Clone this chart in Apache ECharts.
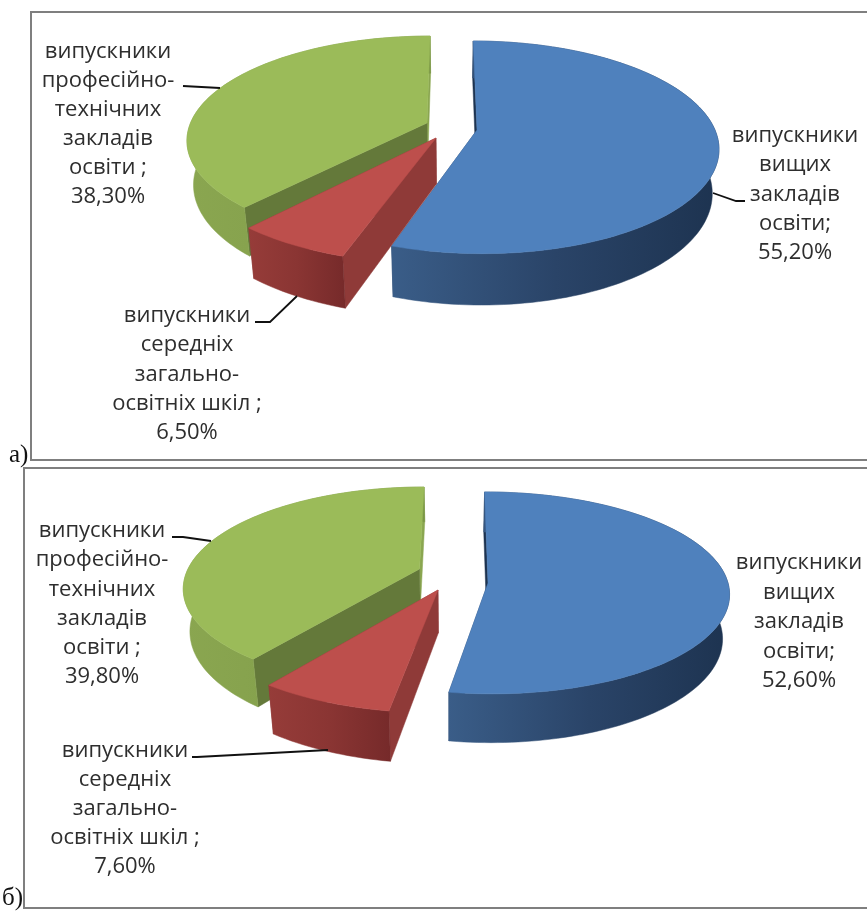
<!DOCTYPE html>
<html><head><meta charset="utf-8">
<style>html,body{margin:0;padding:0;background:#fff}#c{width:867px;height:913px}</style>
<script src="https://cdn.jsdelivr.net/npm/echarts@6/dist/echarts.min.js"></script>
</head><body><div id="c"></div>
<script>
// Data
const categoryLines = {
  higher: ['випускники', 'вищих', 'закладів', 'освіти;'],
  school: ['випускники', 'середніх', 'загально-', 'освітніх шкіл ;'],
  vocational: ['випускники', 'професійно-', 'технічних', 'закладів', 'освіти ;']
};
const sliceOrder = ['higher', 'school', 'vocational'];
const valuesA = [55.2, 6.5, 38.3];
const valuesB = [52.6, 7.6, 39.8];
const chartLetters = ['а)', 'б)'];

// Layout and style
const VX = 450, BOTTOM_K = 0.975, STEP = 1.5;
const layoutA = [
  {cx: 477, cy: 130, rx: 238, ry: 103.5, p: 0.163, d: 43},
  {cx: 436, cy: 138, rx: 252, ry: 110.4, p: 0.122, d: 46},
  {cx: 427, cy: 123, rx: 236.5, ry: 100.6, p: 0.157, d: 43}
];
const layoutB = [
  {cx: 488, cy: 583, rx: 240, ry: 100, p: 0.098, d: 44},
  {cx: 438, cy: 590, rx: 247, ry: 104.7, p: 0.148, d: 43},
  {cx: 419.5, cy: 569, rx: 231.5, ry: 96.5, p: 0.177, d: 41}
];
const styles = [
  {top: '#4f81bd', wall: ['#3a5d88', '#2a4468', '#1d3350'], start: '#1d3350', end: '#2e4a70', z: 1},
  {top: '#bd4f4c', wall: ['#963c39', '#8a3533', '#762a2a'], start: '#8f3a38', end: '#8f3a38', z: 3},
  {top: '#9bbb59', wall: ['#8aa650', '#84a04c', '#7a9646'], start: '#64793a', end: '#8aa650', z: 2}
];
const labelLayoutA = [
  {x: 795, y: 136, lh: 29.2}, {x: 187, y: 316, lh: 29.2}, {x: 108, y: 52, lh: 29}
];
const labelLayoutB = [
  {x: 799, y: 563, lh: 29.5}, {x: 125, y: 751, lh: 29}, {x: 102, y: 531, lh: 29.2}
];
const leadersA = [
  [[713, 193], [736, 201], [745, 201]],
  [[297, 296], [270, 322], [255, 322]],
  [[220, 88], [183, 86]]
];
const leadersB = [
  [[211, 541], [183, 537], [172, 537]],
  [[328, 750], [197, 757], [192, 757]]
];

function point(l, deg, bottom) {
  const t = deg * Math.PI / 180, u = Math.sin(t), v = -Math.cos(t);
  const s = 1 / (1 - l.p * v);
  const k = bottom ? BOTTOM_K : 1;
  return [VX + (l.cx + l.rx * u - VX) * s * k, l.cy + l.ry * v * s + (bottom ? l.d * s : 0)];
}
function apex(l, bottom) { return point(Object.assign({}, l, {ry: 0, rx: 0, p: 0}), 0, bottom); }
function arc(l, a, b, bottom) {
  const pts = [];
  for (let d = a; d < b; d += STEP) pts.push(point(l, d, bottom));
  pts.push(point(l, b, bottom));
  return pts;
}
function polygon(points, fill, z2) {
  return {type: 'polygon', z2, shape: {points}, style: {fill, stroke: fill, lineWidth: 0.5}};
}
function pieSeries(values, layout) {
  let acc = 0;
  const data = values.map((v, i) => { const row = [acc, v, i]; acc += v; return row; });
  return {
    type: 'custom', coordinateSystem: 'none', silent: true, data, animation: false,
    renderItem(params, api) {
      const i = api.value(2), l = layout[i], st = styles[i];
      const a = api.value(0) * 3.6, b = a + api.value(1) * 3.6;
      const top = arc(l, a, b, false), bot = arc(l, a, b, true);
      const wallFill = new echarts.graphic.LinearGradient(0, 0, 1, 0, [
        {offset: 0, color: st.wall[0]}, {offset: 0.5, color: st.wall[1]}, {offset: 1, color: st.wall[2]}
      ]);
      const z = st.z * 10;
      return {type: 'group', children: [
        polygon([apex(l, false), top[top.length - 1], bot[bot.length - 1], apex(l, true)], st.end, z),
        polygon([apex(l, false), top[0], bot[0], apex(l, true)], st.start, z + 1),
        polygon(top.concat(bot.slice().reverse()), wallFill, z + 2),
        polygon([apex(l, false)].concat(top), st.top, z + 3)
      ]};
    }
  };
}

const percent = v => v.toFixed(2).replace('.', ',') + '%';
const FONT = '"Open Sans", sans-serif', FS = 22;
function textEls(values, pos) {
  const els = [];
  sliceOrder.forEach((key, i) => {
    const lines = categoryLines[key].concat(percent(values[i]));
    lines.forEach((t, j) => els.push({
      type: 'text', z: 20, style: {
        text: t, x: pos[i].x, y: pos[i].y + j * pos[i].lh, align: 'center', verticalAlign: 'middle',
        font: FS + 'px ' + FONT, fill: '#2e2e2e'
      }
    }));
  });
  return els;
}
function leaderEls(list) {
  return list.map(points => ({
    type: 'polyline', z: 5, shape: {points},
    style: {stroke: '#111', lineWidth: 1.8, fill: null}
  }));
}
function frame(x, y, w, h) {
  return {type: 'rect', z: 0, shape: {x, y, width: w, height: h},
    style: {fill: '#fff', stroke: '#7f7f7f', lineWidth: 2}};
}
function letter(t, x, y) {
  return {type: 'text', z: 30, style: {text: t, x, y, align: 'left', verticalAlign: 'middle',
    font: '25px "Liberation Serif", serif', fill: '#111'}};
}
const chart = echarts.init(document.getElementById('c'), null, {renderer: 'canvas'});
chart.setOption({
  backgroundColor: '#fff',
  animation: false,
  graphic: {elements: [
    frame(31, 12, 860, 448),
    frame(24, 468, 860, 440),
    letter(chartLetters[0], 9, 455),
    letter(chartLetters[1], 2, 898)
  ].concat(leaderEls(leadersA), leaderEls(leadersB), textEls(valuesA, labelLayoutA), textEls(valuesB, labelLayoutB))},
  series: [pieSeries(valuesA, layoutA), pieSeries(valuesB, layoutB)]
});
</script></body></html>
